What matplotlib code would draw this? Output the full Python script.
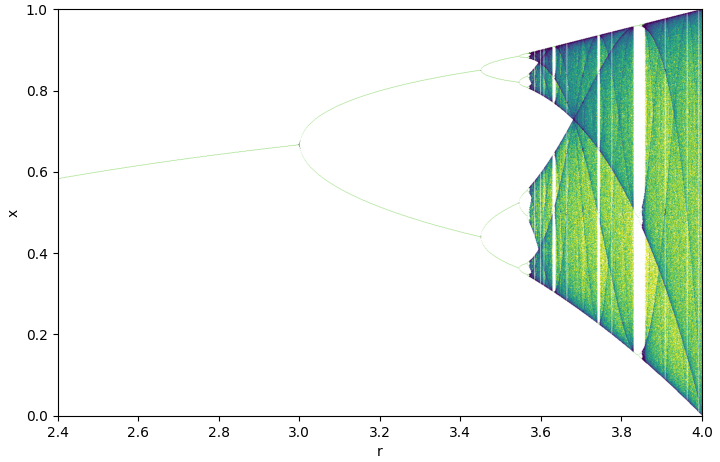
import numpy as np
import matplotlib
matplotlib.use('Agg')
import matplotlib.pyplot as plt
from matplotlib.colors import LogNorm

# parameters of the logistic map sweep
r_min, r_max = 2.4, 4.0
n_r = 1320
n_warm = 1000
n_keep = 4000
x_bins = 900

r = np.linspace(r_min, r_max, n_r)
x = 0.5 * np.ones(n_r)
for i in range(n_warm):
    x = r * x * (1 - x)

H = np.zeros((x_bins, n_r))
cols = np.arange(n_r)
for i in range(n_keep):
    x = r * x * (1 - x)
    idx = np.clip((x * x_bins).astype(int), 0, x_bins - 1)
    np.add.at(H, (idx, cols), 1)

# periodic branches collapse onto a few cells: show them light, as in the reference
H[H > 200] = 3
H = np.ma.masked_where(H == 0, H)
cmap = plt.get_cmap('viridis_r').copy()
cmap.set_bad('white')

fig, ax = plt.subplots(figsize=(7.2, 4.62), dpi=100)
ax.imshow(H, origin='lower', aspect='auto', cmap=cmap, norm=LogNorm(vmin=1.5, vmax=45, clip=True),
          extent=[r_min, r_max, 0, 1], interpolation='antialiased')
ax.set_xlim(r_min, r_max)
ax.set_ylim(0, 1)
ax.set_xlabel('r')
ax.set_ylabel('x')
fig.subplots_adjust(left=0.08, right=0.975, top=0.98, bottom=0.1)
fig.savefig('out.png')
